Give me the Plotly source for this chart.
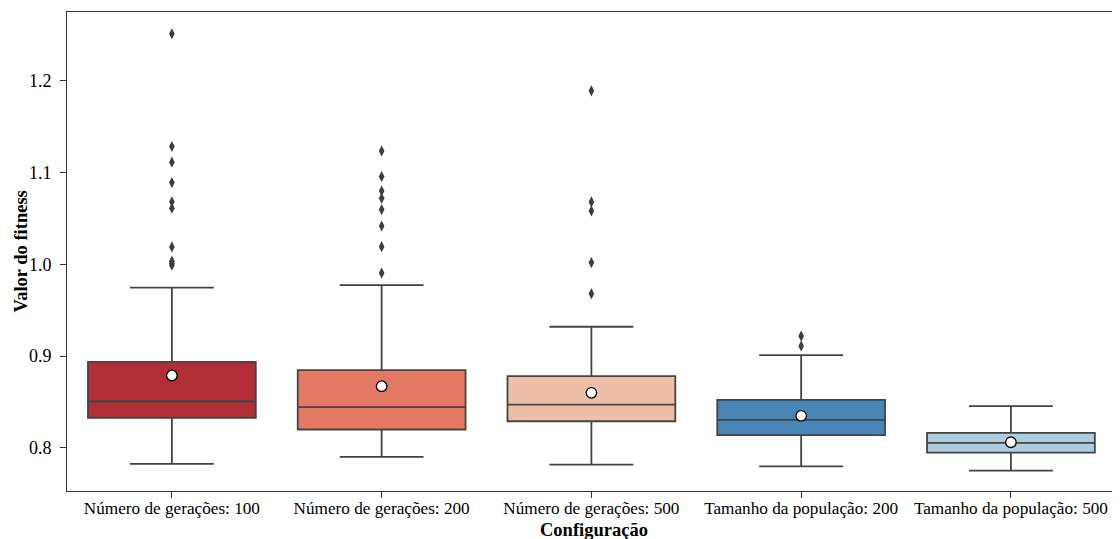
import plotly.graph_objects as go

categories = ["Número de gerações: 100", "Número de gerações: 200", "Número de gerações: 500",
              "Tamanho da população: 200", "Tamanho da população: 500"]
lower_whisker = [0.7825, 0.7902, 0.7818, 0.7799, 0.7752]
q1_values = [0.8327, 0.8200, 0.8290, 0.8138, 0.7949]
median_values = [0.8508, 0.8443, 0.8472, 0.8306, 0.8055]
q3_values = [0.8938, 0.8847, 0.8781, 0.8524, 0.8164]
upper_whisker = [0.9746, 0.9774, 0.9320, 0.9011, 0.8454]
mean_values = [0.8789, 0.8672, 0.8600, 0.8349, 0.8061]
outliers = [
    [1.2513, 1.1284, 1.1113, 1.0891, 1.0681, 1.0612, 1.0190, 1.0035, 1.0010, 0.9990],
    [1.1236, 1.0957, 1.0800, 1.0720, 1.0597, 1.0418, 1.0193, 0.9905],
    [1.1891, 1.0680, 1.0582, 1.0019, 0.9680],
    [0.9218, 0.9109],
    [],
]
box_colors = ["#b22d35", "#e47963", "#eebfa8", "#4884b5", "#afcde0"]

LINE = "#444444"
FONT = "Liberation Serif"

fig = go.Figure()
for i, cat in enumerate(categories):
    fig.add_trace(go.Box(
        x=[cat], q1=[q1_values[i]], median=[median_values[i]], q3=[q3_values[i]],
        lowerfence=[lower_whisker[i]], upperfence=[upper_whisker[i]],
        width=0.8, whiskerwidth=0.5, fillcolor=box_colors[i],
        line=dict(color=LINE, width=1.8), boxpoints=False, showlegend=False,
        hoverinfo="skip",
    ))
    if outliers[i]:
        fig.add_trace(go.Scatter(
            x=[cat] * len(outliers[i]), y=outliers[i], mode="markers",
            marker=dict(symbol="diamond-tall", size=8, color="#3d3d3d",
                        line=dict(width=0)),
            showlegend=False,
        ))

fig.add_trace(go.Scatter(
    x=categories, y=mean_values, mode="markers",
    marker=dict(symbol="circle", size=10.5, color="white",
                line=dict(color="black", width=1.3)),
    showlegend=False,
))

fig.update_layout(
    width=1112, height=531,
    margin=dict(l=59, r=0, t=4, b=48),
    plot_bgcolor="white", paper_bgcolor="white",
    boxmode="overlay",
    font=dict(family=FONT, size=18, color="black"),
    xaxis=dict(
        type="category", categoryorder="array", categoryarray=categories,
        range=[-0.5, 4.52], showgrid=False, zeroline=False,
        showline=True, linecolor="#333333", linewidth=1, mirror=True,
        ticks="outside", ticklen=6, tickcolor="#333333",
        tickfont=dict(family=FONT, size=17.2), ticklabelstandoff=-5,
        automargin=False,
    ),
    yaxis=dict(
        range=[0.753, 1.275], showgrid=False, zeroline=False,
        showline=True, linecolor="#333333", linewidth=1, mirror=False,
        ticks="outside", ticklen=6, tickcolor="#333333",
        tickvals=[0.8, 0.9, 1.0, 1.1, 1.2], ticktext=["0.8", "0.9", "1.0", "1.1", "1.2"],
        tickfont=dict(family=FONT, size=18), ticklabelstandoff=5,
        automargin=False,
    ),
    annotations=[
        dict(text="<b>Configuração</b>", xref="paper", yref="paper", x=0.5, y=-0.0814,
             xanchor="center", yanchor="middle", showarrow=False,
             font=dict(family=FONT, size=18.5)),
        dict(text="<b>Valor do fitness</b>", xref="paper", yref="paper", x=-0.0446, y=0.5,
             xanchor="center", yanchor="middle", textangle=-90, showarrow=False,
             font=dict(family=FONT, size=18.5)),
    ],
)

fig.write_html("out.html")
